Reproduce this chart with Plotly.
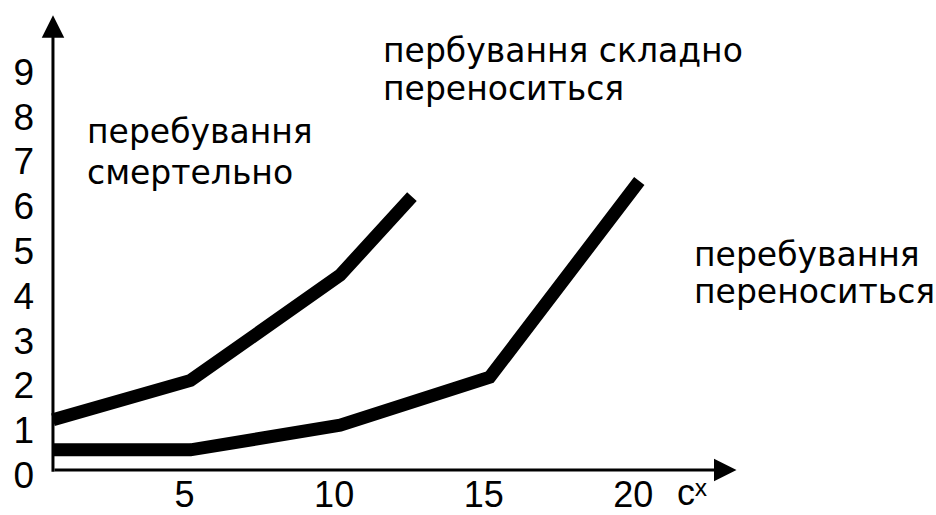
import plotly.graph_objects as go

# data
x_upper = [0.4, 5, 10, 12.4]
y_upper = [1.12, 2.0, 4.35, 6.1]
x_lower = [0.4, 5, 10, 15, 20]
y_lower = [0.45, 0.45, 1.0, 2.07, 6.45]

y_ticks = [0, 1, 2, 3, 4, 5, 6, 7, 8, 9]
x_ticks = [5, 10, 15, 20]
x_unit = "сˣ"

labels = [
    # (lines, x, y_line1, y_line2)
    (["перебування", "смертельно"], 1.47, 7.55, 6.65),
    (["пербування складно", "переноситься"], 11.37, 9.36, 8.51),
    (["перебування", "переноситься"], 21.75, 4.82, 3.99),
]

X_MAX = 23.3
Y_MAX = 10.2
AX0 = 0.4  # where the vertical axis crosses

TEXT_FONT = dict(family="DejaVu Sans", size=33, color="black")
TICK_FONT = dict(family="Liberation Sans, Arial", size=37, color="black")
XTICK_FONT = dict(family="Liberation Sans, Arial", size=36, color="black")

fig = go.Figure()
for xs, ys in [(x_upper, y_upper), (x_lower, y_lower)]:
    fig.add_trace(go.Scatter(x=xs, y=ys, mode="lines",
                             line=dict(color="black", width=13),
                             showlegend=False, hoverinfo="skip"))

ann = []
# axes drawn as arrows
ann.append(dict(x=X_MAX - 0.05, y=0, ax=AX0, ay=0, xref="x", yref="y", axref="x", ayref="y",
                showarrow=True, arrowhead=2, arrowsize=1.5, arrowwidth=3, arrowcolor="black", text=""))
ann.append(dict(x=AX0, y=Y_MAX - 0.05, ax=AX0, ay=-0.07, xref="x", yref="y", axref="x", ayref="y",
                showarrow=True, arrowhead=2, arrowsize=1.5, arrowwidth=3, arrowcolor="black", text=""))

for lines, lx, y1, y2 in labels:
    for t, yy in zip(lines, [y1, y2]):
        ann.append(dict(x=lx, y=yy, xref="x", yref="y", text=t, showarrow=False,
                        xanchor="left", yanchor="middle", font=TEXT_FONT))

ann.append(dict(x=0.91, y=-0.05, xref="paper", yref="paper", text=x_unit, showarrow=False,
                xanchor="left", yanchor="middle", font=XTICK_FONT))

fig.update_layout(
    width=936, height=515,
    margin=dict(l=41, r=198, t=13, b=45),
    paper_bgcolor="white", plot_bgcolor="white",
    annotations=ann,
    xaxis=dict(range=[0, X_MAX], showgrid=False, zeroline=False, showline=False,
               automargin=False,
               tickmode="array", tickvals=x_ticks, ticktext=[str(v) for v in x_ticks],
               tickfont=XTICK_FONT, ticks="", ticklabelshift=-6, ticklabelstandoff=0),
    yaxis=dict(range=[0, Y_MAX], showgrid=False, zeroline=False, showline=False,
               automargin=False,
               tickmode="array", tickvals=y_ticks, ticktext=[str(v) for v in y_ticks],
               tickfont=TICK_FONT, ticks="", ticklabelshift=5, ticklabelstandoff=6),
)

fig.write_html("out.html",
               config={"displayModeBar": False},
               post_script="document.body.style.margin='0';document.body.style.padding='0';"
                           "document.body.style.overflow='hidden';")
